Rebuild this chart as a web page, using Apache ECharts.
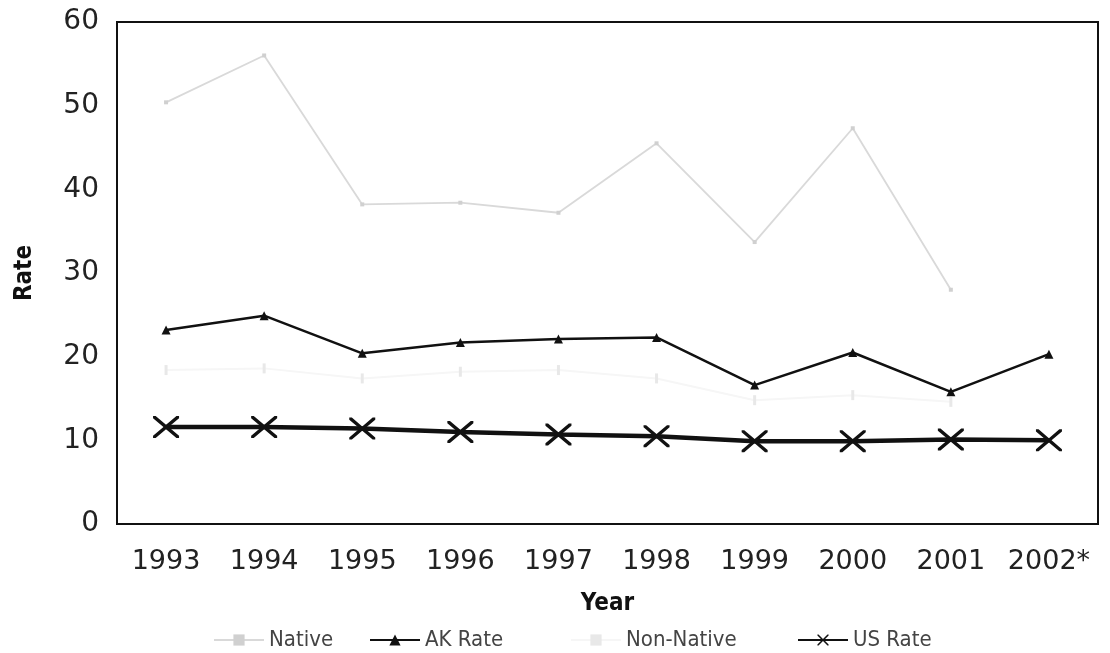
<!DOCTYPE html>
<html>
<head>
<meta charset="utf-8">
<script src="https://cdn.jsdelivr.net/npm/echarts@6/dist/echarts.min.js"></script>
<style>
html, body { margin: 0; padding: 0; background: #fff; }
#chart { width: 1110px; height: 653px; }
</style>
</head>
<body>
<div id="chart"></div>
<script>
var years = ['1993', '1994', '1995', '1996', '1997', '1998', '1999', '2000', '2001', '2002*'];
var native = [50.4, 56.0, 38.2, 38.4, 37.2, 45.5, 33.7, 47.3, 28.0, null];
var akRate = [23.2, 24.9, 20.4, 21.7, 22.1, 22.3, 16.6, 20.5, 15.8, 20.3];
var nonNative = [18.4, 18.6, 17.4, 18.2, 18.4, 17.4, 14.8, 15.4, 14.6, null];
var usRate = [11.6, 11.6, 11.4, 11.0, 10.7, 10.5, 9.9, 9.9, 10.1, 10.0];
var yTicks = [0, 10, 20, 30, 40, 50, 60];

var xMark = 'path://M0,0 L2,0 L10,8 L18,0 L20,0 L20,2 L12,10 L20,18 L20,20 L18,20 L10,12 L2,20 L0,20 L0,18 L8,10 L0,2 Z';
var narrow = 'Liberation Sans Narrow, DejaVu Sans Condensed, sans-serif';
var legendText = {fontFamily: narrow, fontSize: 22, color: '#444'};

function legendItem(name, left) {
  return {data: [name], left: left, top: 624, itemWidth: 50, itemHeight: 14, textStyle: legendText};
}

var chart = echarts.init(document.getElementById('chart'), null, {renderer: 'canvas'});
var option = {
  animation: false,
  backgroundColor: '#ffffff',
  grid: {left: 117, right: 12, top: 22, bottom: 129, show: true, borderColor: '#111', borderWidth: 2},
  xAxis: {
    type: 'category',
    data: years,
    boundaryGap: true,
    name: 'Year',
    nameLocation: 'middle',
    nameGap: 68,
    nameTextStyle: {fontFamily: narrow, fontWeight: 'bold', fontSize: 24, color: '#111'},
    axisLine: {show: false},
    axisTick: {show: false},
    axisLabel: {interval: 0, hideOverlap: false, fontFamily: 'DejaVu Sans, sans-serif', fontSize: 27, color: '#222', margin: 24}
  },
  yAxis: {
    type: 'value',
    min: yTicks[0],
    max: yTicks[yTicks.length - 1],
    interval: 10,
    name: 'Rate',
    nameLocation: 'middle',
    nameRotate: 90,
    nameGap: 80,
    nameTextStyle: {fontFamily: narrow, fontWeight: 'bold', fontSize: 24, color: '#111'},
    axisLine: {show: false},
    axisTick: {show: false},
    splitLine: {show: false},
    axisLabel: {fontFamily: 'DejaVu Sans, sans-serif', fontSize: 28, color: '#222', margin: 18}
  },
  legend: [
    legendItem('Native', 208),
    legendItem('AK Rate', 364),
    legendItem('Non-Native', 565),
    legendItem('US Rate', 792)
  ],
  series: [
    {
      name: 'Native', type: 'line', data: native,
      symbol: 'rect', symbolSize: 4, connectNulls: false,
      lineStyle: {color: '#d9d9d9', width: 1.8},
      itemStyle: {color: '#d0d0d0'}
    },
    {
      name: 'AK Rate', type: 'line', data: akRate,
      symbol: 'triangle', symbolSize: 9,
      lineStyle: {color: '#111', width: 2.5},
      itemStyle: {color: '#111'}
    },
    {
      name: 'Non-Native', type: 'line', data: nonNative,
      symbol: 'rect', symbolSize: [3, 10],
      lineStyle: {color: '#f6f6f6', width: 2},
      itemStyle: {color: '#e8e8e8'}
    },
    {
      name: 'US Rate', type: 'line', data: usRate,
      symbol: xMark, symbolSize: [26, 22],
      lineStyle: {color: '#111', width: 4.5},
      itemStyle: {color: '#111'}
    }
  ]
};
chart.setOption(option);
</script>
</body>
</html>
